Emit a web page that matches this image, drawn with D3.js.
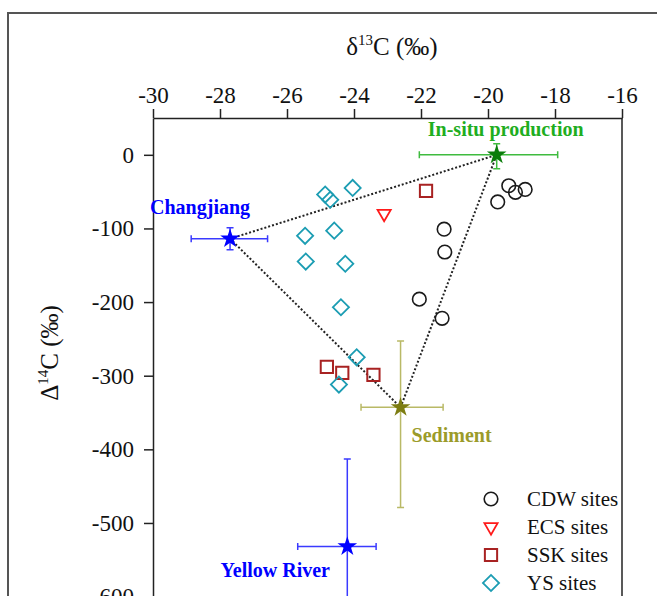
<!DOCTYPE html>
<html>
<head>
<meta charset="utf-8">
<script src="https://cdn.jsdelivr.net/npm/d3@7"></script>
<style>
  body { margin: 0; background: #fff; }
  svg { display: block; font-family: "Liberation Serif", "Times New Roman", serif; }
</style>
</head>
<body>
<div id="chart"></div>
<script>
// site measurements (d13C, D14C)
const cdwX = [-21.31, -21.29, -22.05, -21.37, -19.38, -19.18, -18.89, -19.71];
const cdwY = [-101, -132, -196, -222, -42, -51, -47, -64];
const ecsX = [-23.1];
const ecsY = [-80];
const sskX = [-21.85, -24.81, -24.35, -23.42];
const sskY = [-49, -288, -296, -299];
const ysX = [-24.86, -24.71, -24.04, -25.46, -24.59, -25.44, -24.26, -24.39, -23.92, -24.45];
const ysY = [-54, -61, -45, -110, -103, -145, -148, -207, -275, -312];

// end members
const emNames = ["Changjiang", "In-situ production", "Sediment", "Yellow River"];
const emX = [-27.7, -19.74, -22.61, -24.2];
const emY = [-114, 0, -343, -532];
const emXErrLo = [1.16, 2.31, 1.18, 1.48];
const emXErrHi = [1.12, 1.82, 1.27, 0.86];
const emYErrUp = [15, 15, 90, 119];
const emYErrDown = [15, 19, 136, 119];

const xTicks = [-30, -28, -26, -24, -22, -20, -18, -16];
const yTicks = [0, -100, -200, -300, -400, -500, -600];
const legendLabels = ["CDW sites", "ECS sites", "SSK sites", "YS sites"];

const width = 657, height = 596;
const margin = {left: 153, top: 118, right: 35};

const x = d3.scaleLinear().domain([-30, -16]).range([margin.left, width - margin.right]);
const y = d3.scaleLinear().domain([50, -600]).range([margin.top, 596.6]);

const svg = d3.select("#chart").append("svg")
    .attr("width", width)
    .attr("height", height);

// outer frame of the figure
svg.append("path")
    .attr("d", `M8,${height} V13 H${width}`)
    .attr("fill", "none")
    .attr("stroke", "#555")
    .attr("stroke-width", 2);

// plain hyphen for negatives, like the original
const fmt = d => String(d);

// top axis
const xAxis = svg.append("g")
    .attr("transform", `translate(0,${margin.top})`)
    .call(d3.axisTop(x).tickValues(xTicks).tickFormat(fmt).tickSize(9).tickPadding(6).tickSizeOuter(0));

// left axis
const yAxis = svg.append("g")
    .attr("transform", `translate(${margin.left},0)`)
    .call(d3.axisLeft(y).tickValues(yTicks).tickFormat(fmt).tickSize(9).tickPadding(10).tickSizeOuter(0));

// right border
svg.append("line")
    .attr("x1", x(-16)).attr("x2", x(-16))
    .attr("y1", margin.top).attr("y2", height)
    .attr("stroke", "#222").attr("stroke-width", 1.5);

[xAxis, yAxis].forEach(a => {
    a.select(".domain").attr("stroke", "#222").attr("stroke-width", 1.5);
    a.selectAll(".tick line").attr("stroke", "#222").attr("stroke-width", 1.5);
    a.selectAll(".tick text")
        .attr("fill", "#111")
        .style("font-family", "Liberation Serif, serif")
        .style("font-size", "23px");
});

// axis titles
const xt = svg.append("text")
    .attr("x", 392).attr("y", 55)
    .attr("text-anchor", "middle")
    .style("font-size", "25px").attr("fill", "#111");
xt.append("tspan").text("\u03B4");
xt.append("tspan").text("13").attr("dy", -10).style("font-size", "15px");
xt.append("tspan").text("C (\u2030)").attr("dy", 10);

const yt = svg.append("text")
    .attr("transform", "translate(58,353) rotate(-90)")
    .attr("text-anchor", "middle")
    .style("font-size", "25px").attr("fill", "#111");
yt.append("tspan").text("\u0394");
yt.append("tspan").text("14").attr("dy", -10).style("font-size", "15px");
yt.append("tspan").text("C (\u2030)").attr("dy", 10);

// mixing triangle
const tri = [0, 1, 2, 0].map(i => [x(emX[i]), y(emY[i])]);
svg.append("path")
    .attr("d", d3.line()(tri))
    .attr("fill", "none")
    .attr("stroke", "#222")
    .attr("stroke-width", 2)
    .attr("stroke-dasharray", "2,2");

// sites
const pts = (xs, ys) => xs.map((v, i) => [v, ys[i]]);

svg.append("g").selectAll("circle")
    .data(pts(cdwX, cdwY))
    .join("circle")
    .attr("cx", d => x(d[0])).attr("cy", d => y(d[1]))
    .attr("r", 6.8)
    .attr("fill", "none").attr("stroke", "#1a1a1a").attr("stroke-width", 1.6);

const sym = (type, size) => d3.symbol().type(type).size(size)();

svg.append("g").selectAll("path")
    .data(pts(ecsX, ecsY))
    .join("path")
    .attr("d", sym(d3.symbolTriangle, 75))
    .attr("transform", d => `translate(${x(d[0])},${y(d[1])}) rotate(180)`)
    .attr("fill", "none").attr("stroke", "#ff1a1a").attr("stroke-width", 1.8);

svg.append("g").selectAll("path")
    .data(pts(sskX, sskY))
    .join("path")
    .attr("d", sym(d3.symbolSquare, 150))
    .attr("transform", d => `translate(${x(d[0])},${y(d[1])})`)
    .attr("fill", "none").attr("stroke", "#a82222").attr("stroke-width", 2);

svg.append("g").selectAll("path")
    .data(pts(ysX, ysY))
    .join("path")
    .attr("d", sym(d3.symbolSquare, 130))
    .attr("transform", d => `translate(${x(d[0])},${y(d[1])}) rotate(45)`)
    .attr("fill", "none").attr("stroke", "#1c9db3").attr("stroke-width", 1.8);

// end members with error bars
const emStar = ["#0000ff", "#0b7d0b", "#7d7d12", "#0000ff"];
const emBar = ["#3a3aff", "#3fbb3f", "#b9b966", "#3a3aff"];
const emText = ["#0000ff", "#1fae1f", "#9b9b2a", "#0000ff"];
// label offsets from the star (px) and anchor
const emDx = [-30, 9, 11, -72];
const emDy = [-25, -19, 35, 30];
const emAnchor = ["middle", "middle", "start", "middle"];

const em = svg.append("g").selectAll("g")
    .data(emNames.map((n, i) => i))
    .join("g");

const cap = 3.5;
em.append("path")
    .attr("d", i => {
        const cx = x(emX[i]), cy = y(emY[i]);
        const x0 = x(emX[i] - emXErrLo[i]), x1 = x(emX[i] + emXErrHi[i]);
        const y0 = y(emY[i] + emYErrUp[i]), y1 = y(emY[i] - emYErrDown[i]);
        return `M${x0},${cy}H${x1}M${x0},${cy - cap}V${cy + cap}M${x1},${cy - cap}V${cy + cap}` +
               `M${cx},${y0}V${y1}M${cx - cap},${y0}H${cx + cap}M${cx - cap},${y1}H${cx + cap}`;
    })
    .attr("fill", "none")
    .attr("stroke", i => emBar[i])
    .attr("stroke-width", 1.5);

em.append("path")
    .attr("d", sym(d3.symbolStar, 120))
    .attr("transform", i => `translate(${x(emX[i])},${y(emY[i])})`)
    .attr("fill", i => emStar[i]);

em.append("text")
    .attr("x", i => x(emX[i]) + emDx[i])
    .attr("y", i => y(emY[i]) + emDy[i])
    .attr("text-anchor", i => emAnchor[i])
    .attr("fill", i => emText[i])
    .style("font-weight", "bold")
    .style("font-size", "20px")
    .text(i => emNames[i]);

// legend
const legend = svg.append("g").attr("transform", "translate(491,499)");
const rowH = 28;
const lg = legend.selectAll("g")
    .data(legendLabels)
    .join("g")
    .attr("transform", (d, i) => `translate(0,${i * rowH})`);

lg.filter((d, i) => i === 0).append("circle")
    .attr("r", 6.8).attr("fill", "none").attr("stroke", "#1a1a1a").attr("stroke-width", 1.6);
lg.filter((d, i) => i === 1).append("path")
    .attr("d", sym(d3.symbolTriangle, 75)).attr("transform", "rotate(180)")
    .attr("fill", "none").attr("stroke", "#ff1a1a").attr("stroke-width", 1.8);
lg.filter((d, i) => i === 2).append("path")
    .attr("d", sym(d3.symbolSquare, 150))
    .attr("fill", "none").attr("stroke", "#a82222").attr("stroke-width", 2);
lg.filter((d, i) => i === 3).append("path")
    .attr("d", sym(d3.symbolSquare, 130)).attr("transform", "rotate(45)")
    .attr("fill", "none").attr("stroke", "#1c9db3").attr("stroke-width", 1.8);

lg.append("text")
    .attr("x", 36).attr("y", 7)
    .attr("fill", "#111")
    .style("font-size", "21px")
    .text(d => d);
</script>
</body>
</html>
